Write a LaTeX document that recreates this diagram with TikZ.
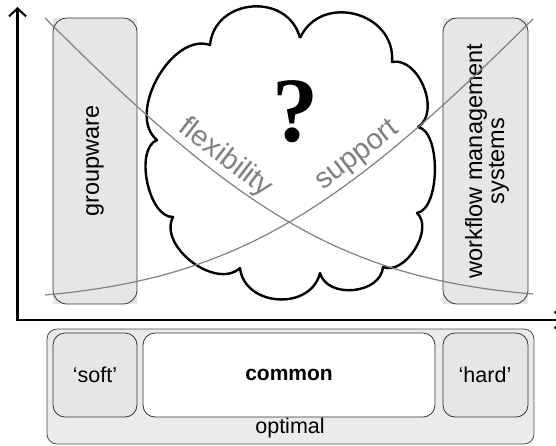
\documentclass[tikz,border=0pt]{standalone}
\usepackage{fontspec}
\setmainfont{Liberation Sans}
\newfontfamily\qfont{Liberation Serif}
\usetikzlibrary{arrows.meta}
\definecolor{boxgray}{HTML}{E6E6E6}
\definecolor{curvegray}{HTML}{808080}
\definecolor{optgray}{HTML}{EBEBEB}
\begin{document}
\begin{tikzpicture}[x=1pt,y=-1pt,
  bgrect/.style={fill=boxgray, draw=none},
  rborder/.style={draw=black!80, line width=0.8pt, rounded corners=14pt},
  softbox/.style={draw=black!80, line width=0.8pt, rounded corners=12pt, fill=boxgray},
  commonbox/.style={draw=black!80, line width=0.8pt, rounded corners=12pt, fill=white},
  optbox/.style={draw=black!70, line width=0.8pt, rounded corners=10pt, fill=optgray},
  axis/.style={line width=2.6pt, -{Straight Barb[length=8pt,width=17pt,line width=2pt]}},
  curve/.style={draw=curvegray, line width=1.2pt},
  curvelabel/.style={text=curvegray, font=\fontsize{29}{29}\selectfont, inner sep=3pt},
  vlabel/.style={rotate=90, align=center, font=\fontsize{23.5}{22}\selectfont},
  blabel/.style={font=\fontsize{21.5}{21.5}\selectfont},
  cloudline/.style={draw=black, line width=2.4pt, line join=round}]
\useasboundingbox (0,0) rectangle (556,445);
\clip (0,0) rectangle (556,445);

% side boxes
\fill[bgrect] (53,18) rectangle (137,304);
\draw[rborder] (53,18) rectangle (137,304);
\node[vlabel] (gw) at (95,161) {groupware};
\fill[bgrect] (443,18) rectangle (528,304);
\draw[rborder] (443,18) rectangle (528,304);
\node[vlabel] (wf) at (487,161) {workflow management\\systems};

% cloud
\coordinate (c1) at (300,38);
\coordinate (c2) at (392,62);
\coordinate (c3) at (418,127);
\coordinate (c4) at (417,213);
\coordinate (c5) at (383,267);
\coordinate (c6) at (320,273);
\coordinate (c7) at (240,268);
\coordinate (c8) at (173,217);
\coordinate (c9) at (157,140);
\coordinate (c10) at (210,45);
\draw[cloudline] (c1)
  to[bend left=80, looseness=1.35] (c2)
  to[bend left=80, looseness=1.0] (c3)
  to[bend left=80, looseness=0.7] (c4)
  to[bend left=80, looseness=0.95] (c5)
  to[bend left=80, looseness=1.1] (c6)
  to[bend left=80, looseness=1.25] (c7)
  to[bend left=80, looseness=1.0] (c8)
  to[bend left=80, looseness=0.8] (c9)
  to[bend left=80, looseness=0.95] (c10)
  to[bend left=80, looseness=1.35] (c1);
\node[inner sep=0pt] (q) at (295,112) {\qfont\bfseries\fontsize{92}{92}\selectfont ?};

% curves
\coordinate (f0) at (45,18);
\coordinate (f3) at (533,294);
\coordinate (s0) at (45,295);
\coordinate (s3) at (533,19);
\draw[curve] (f0) .. controls (237,210) and (341,278) .. (f3)
  node[curvelabel, pos=0.335, sloped, above] (flex) {flexibility};
\draw[curve] (s0) .. controls (237,278) and (341,210) .. (s3)
  node[curvelabel, pos=0.675, sloped, above] (supp) {support};

% axes
\coordinate (ytop) at (17.5,7);
\coordinate (xend) at (564,320);
\draw[axis] (17.5,321.3) -- (ytop);
\draw[axis] (16.2,320) -- (xend);

% bottom
\draw[optbox] (47,329) rectangle (534,444);
\node[blabel] (opt) at (290,428) {optimal};
\draw[softbox] (53,333) rectangle (137,417);
\node[blabel] (soft) at (95,375) {‘soft’};
\draw[commonbox] (143,333) rectangle (435,417);
\node[blabel, font=\fontsize{21}{21}\selectfont\bfseries] (common) at (289,375) {common};
\draw[softbox] (443,333) rectangle (528,417);
\node[blabel] (hard) at (485,375) {‘hard’};
\end{tikzpicture}
\end{document}
